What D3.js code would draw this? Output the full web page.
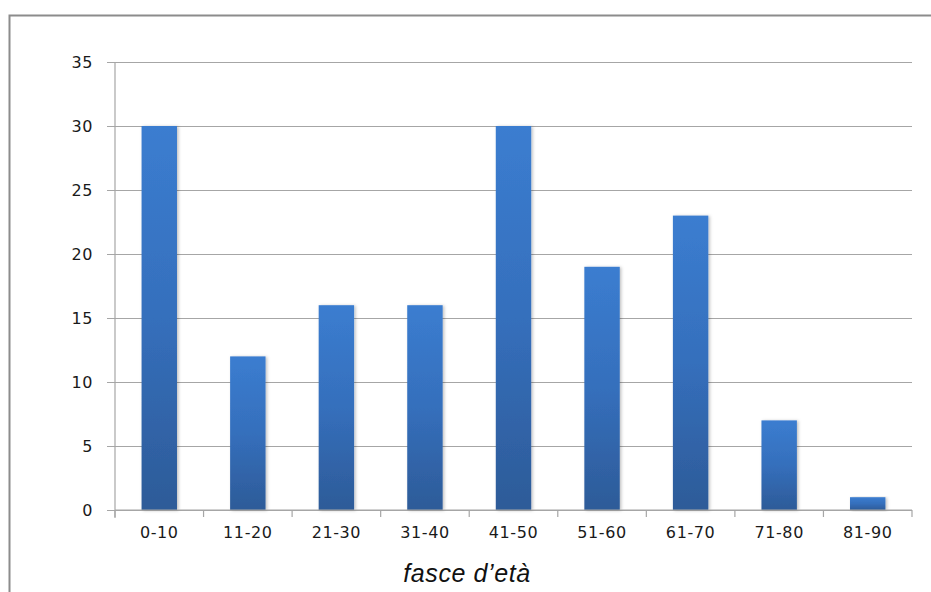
<!DOCTYPE html>
<html>
<head>
<meta charset="utf-8">
<script src="https://cdn.jsdelivr.net/npm/d3@7"></script>
<style>
  html, body { margin: 0; padding: 0; background: #fff; }
  svg { display: block; }
</style>
</head>
<body>
<svg id="chart" width="931" height="592"></svg>
<script>
// Age groups and counts
const categories = ["0-10", "11-20", "21-30", "31-40", "41-50", "51-60", "61-70", "71-80", "81-90"];
const counts = [30, 12, 16, 16, 30, 19, 23, 7, 1];
const yTicks = [0, 5, 10, 15, 20, 25, 30, 35];
const xTitle = "fasce d’età";

const svg = d3.select("#chart");
const W = 931, H = 592;
const margin = { left: 115, right: 19, top: 62, bottom: 82 };

// outer chart frame (runs off the right and bottom edge)
svg.append("rect")
  .attr("x", 9.5).attr("y", 15.5)
  .attr("width", 940).attr("height", 600)
  .attr("fill", "#fff")
  .attr("stroke", "#8c8c8c")
  .attr("stroke-width", 2);

const defs = svg.append("defs");
const grad = defs.append("linearGradient")
  .attr("id", "barGrad")
  .attr("x1", 0).attr("y1", 0).attr("x2", 0).attr("y2", 1);
grad.append("stop").attr("offset", "0%").attr("stop-color", "#3b7dd0");
grad.append("stop").attr("offset", "50%").attr("stop-color", "#356fbc");
grad.append("stop").attr("offset", "100%").attr("stop-color", "#2d5b98");

const shadow = defs.append("filter").attr("id", "barShadow")
  .attr("x", "-20%").attr("y", "-5%").attr("width", "150%").attr("height", "115%");
shadow.append("feDropShadow")
  .attr("dx", 1.5).attr("dy", 0.5).attr("stdDeviation", 1.5)
  .attr("flood-color", "#000").attr("flood-opacity", 0.25);

const x = d3.scaleBand()
  .domain(categories)
  .range([margin.left, W - margin.right])
  .paddingInner(0.6)
  .paddingOuter(0.3);

const y = d3.scaleLinear()
  .domain([0, 35])
  .range([H - margin.bottom, margin.top]);

const labelFont = "DejaVu Sans, Verdana, sans-serif";

// horizontal gridlines with outward tick marks
const yAxis = d3.axisLeft(y)
  .tickValues(yTicks)
  .tickSize(-(W - margin.right - margin.left))
  .tickPadding(22)
  .tickFormat(d3.format("d"));

const gy = svg.append("g")
  .attr("transform", `translate(${margin.left},0)`)
  .call(yAxis);
gy.select(".domain").remove();
gy.selectAll(".tick line")
  .attr("x1", -8)
  .attr("stroke", "#a6a6a6")
  .attr("stroke-width", 1.2);
gy.selectAll(".tick text")
  .attr("font-family", labelFont)
  .attr("font-size", 16)
  .attr("letter-spacing", 0.6)
  .attr("fill", "#1a1a1a");

// vertical axis line
svg.append("line")
  .attr("x1", margin.left).attr("x2", margin.left)
  .attr("y1", margin.top).attr("y2", H - margin.bottom + 8)
  .attr("stroke", "#a6a6a6").attr("stroke-width", 1.2);

// bars
svg.append("g")
  .selectAll("rect")
  .data(categories)
  .join("rect")
  .attr("x", d => x(d))
  .attr("width", x.bandwidth())
  .attr("y", (d, i) => y(counts[i]))
  .attr("height", (d, i) => y(0) - y(counts[i]))
  .attr("fill", "url(#barGrad)")
  .attr("filter", "url(#barShadow)");

// category axis
const xAxis = d3.axisBottom(x).tickSize(0).tickPadding(17);
const gx = svg.append("g")
  .attr("transform", `translate(0,${H - margin.bottom})`)
  .call(xAxis);
gx.select(".domain")
  .attr("stroke", "#a6a6a6").attr("stroke-width", 1.2)
  .attr("d", `M${margin.left},0H${W - margin.right}`);
gx.selectAll(".tick text")
  .attr("font-family", labelFont)
  .attr("font-size", 16)
  .attr("letter-spacing", 0.6)
  .attr("fill", "#1a1a1a");

// tick marks between categories
const boundaries = d3.range(categories.length + 1).map(i => margin.left + i * (W - margin.right - margin.left) / categories.length);
svg.append("g")
  .selectAll("line")
  .data(boundaries)
  .join("line")
  .attr("x1", d => d).attr("x2", d => d)
  .attr("y1", H - margin.bottom).attr("y2", H - margin.bottom + 7)
  .attr("stroke", "#a6a6a6").attr("stroke-width", 1.2);

// axis title
svg.append("text")
  .attr("x", 467).attr("y", 582)
  .attr("text-anchor", "middle")
  .attr("font-family", "Liberation Sans, Arial, sans-serif")
  .attr("font-style", "italic")
  .attr("font-size", 25)
  .attr("letter-spacing", 0.6)
  .attr("fill", "#111")
  .text(xTitle);
</script>
</body>
</html>
